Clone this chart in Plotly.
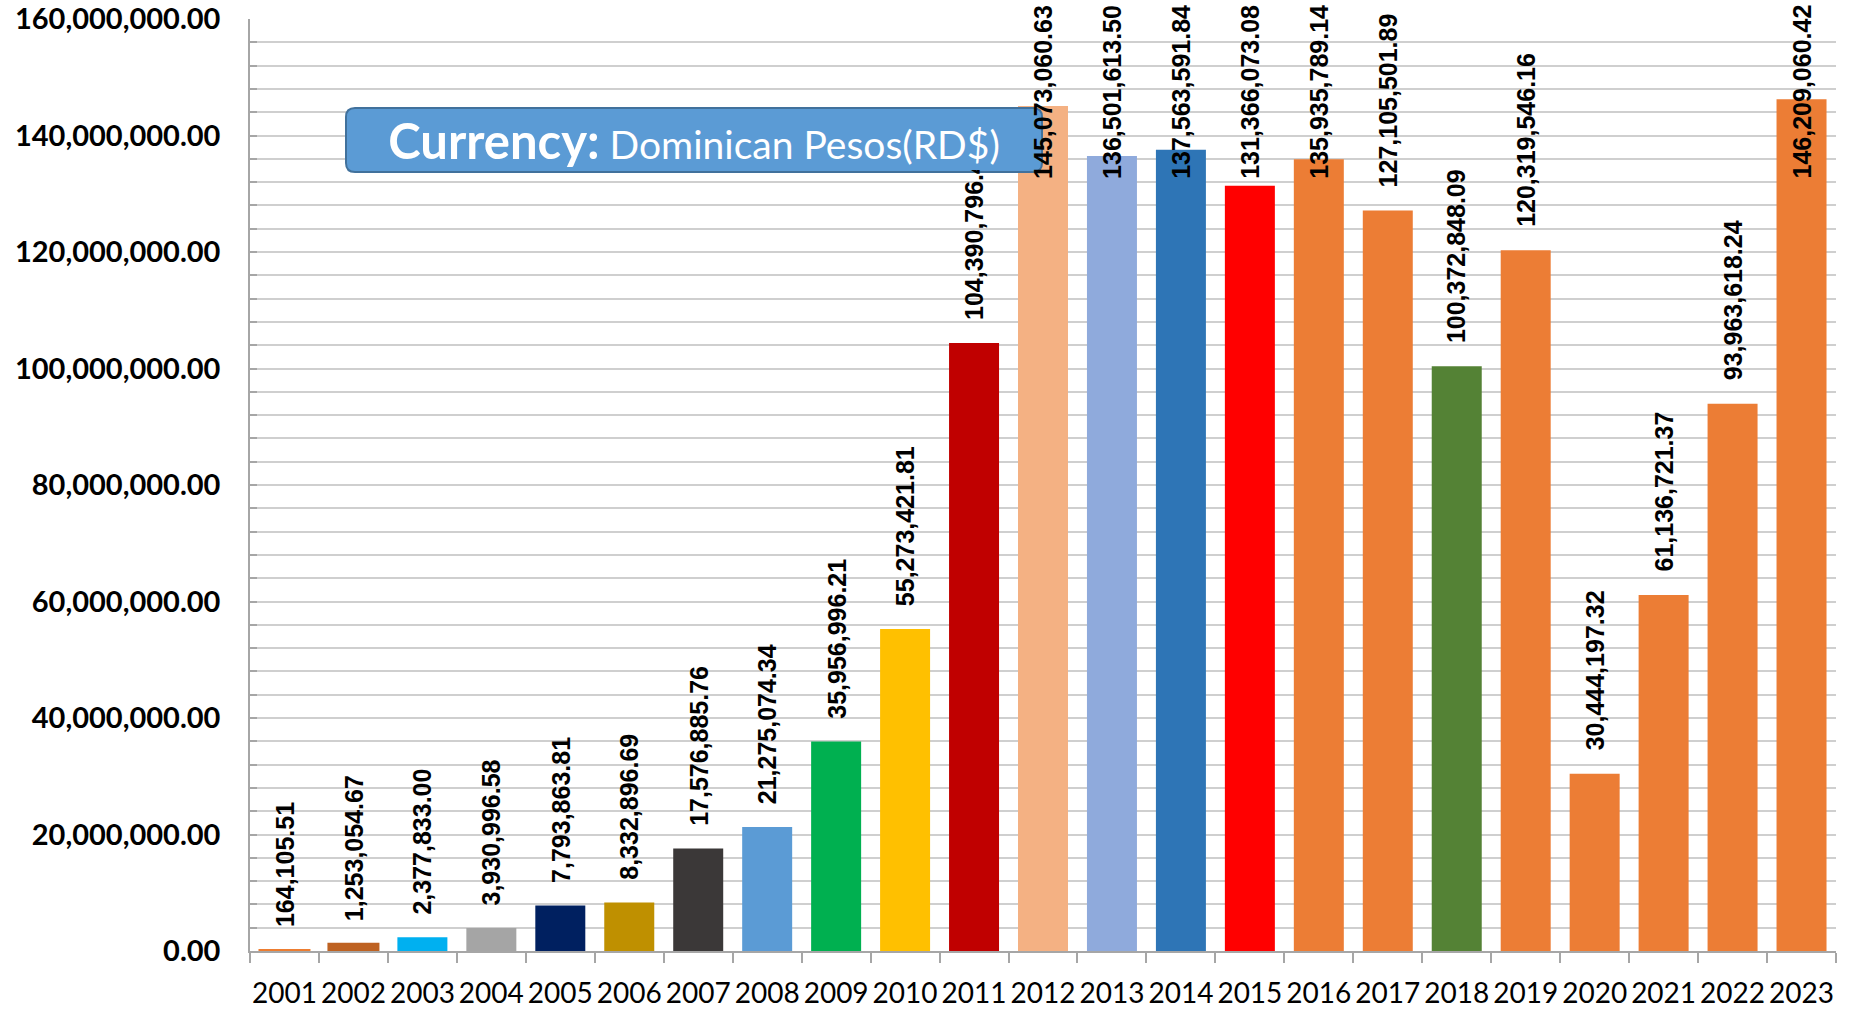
import plotly.graph_objects as go

# ---------------- data ----------------
years = ["2001", "2002", "2003", "2004", "2005", "2006", "2007", "2008",
         "2009", "2010", "2011", "2012", "2013", "2014", "2015", "2016",
         "2017", "2018", "2019", "2020", "2021", "2022", "2023"]

values = [164105.51, 1253054.67, 2377833.00, 3930996.58, 7793863.81,
          8332896.69, 17576885.76, 21275074.34, 35956996.21, 55273421.81,
          104390796.45, 145073060.63, 136501613.50, 137563591.84,
          131366073.08, 135935789.14, 127105501.89, 100372848.09,
          120319546.16, 30444197.32, 61136721.37, 93963618.24,
          146209060.42]

bar_colors = ["#ED7D31", "#BE6222", "#00B0F0", "#A5A5A5", "#002060",
              "#BF9000", "#3B3838", "#5B9BD5", "#00B050", "#FFC000",
              "#C00000", "#F4B183", "#8FAADC", "#2E75B6", "#FF0000",
              "#EC7D35", "#EC7D35", "#548235", "#EC7D35", "#EC7D35",
              "#EC7D35", "#EC7D35", "#EC7D35"]

y_tick_values = [0, 20e6, 40e6, 60e6, 80e6, 100e6, 120e6, 140e6, 160e6]

box_title = "Currency:"
box_subtitle = "Dominican Pesos(RD$)"

# ---------------- layout constants ----------------
W, H = 1857, 1010
PLOT_L, PLOT_R, PLOT_T, PLOT_B = 250, 1836, 19, 951   # on the page
ML, MT = PLOT_L, PLOT_T
MR, MB = W - PLOT_R, H - PLOT_B
PW, PH = PLOT_R - PLOT_L, PLOT_B - PLOT_T
Y_MAX = 160e6
LABEL_GAP = 3.6e6        # gap between bar top and its label
LABEL_CEIL = 132.2e6     # labels are pushed down so they stay on the page

GRID = "#CFCFCF"
AXIS = "#A6A6A6"

line_colors = [c for c in bar_colors]
line_widths = [2 if v < 2e6 else 0 for v in values]

fig = go.Figure()
fig.add_trace(go.Bar(
    x=years, y=values,
    marker=dict(color=bar_colors, line=dict(color=line_colors, width=line_widths)),
    hovertemplate="%{x}: %{y:,.2f}<extra></extra>",
))

annotations = []
for i, v in enumerate(values):
    annotations.append(dict(
        x=i, y=min(v + LABEL_GAP, LABEL_CEIL), xref="x", yref="y",
        text=f"{v:,.2f}", textangle=-90, showarrow=False,
        xanchor="center", yanchor="bottom",
        font=dict(family="Liberation Sans, Arial, sans-serif", size=25,
                  color="black", weight="bold"),
    ))

# currency box (rounded rectangle) in paper coords
bx0, bx1, by0, by1 = 346, 1042, 108, 172   # pixel positions on page
r = 9
def px_x(p):
    return (p - PLOT_L) / PW
def px_y(p):
    return (PLOT_B - p) / PH

x0, x1 = px_x(bx0), px_x(bx1)
y0, y1 = px_y(by1), px_y(by0)
rx, ry = r / PW, r / PH
path = (f"M {x0+rx},{y0} L {x1-rx},{y0} Q {x1},{y0} {x1},{y0+ry} "
        f"L {x1},{y1-ry} Q {x1},{y1} {x1-rx},{y1} L {x0+rx},{y1} "
        f"Q {x0},{y1} {x0},{y1-ry} L {x0},{y0+ry} Q {x0},{y0} {x0+rx},{y0} Z")

shapes = [dict(type="path", path=path, xref="paper", yref="paper",
               fillcolor="#5B9BD5", line=dict(color="#41719C", width=2),
               layer="above")]

annotations.append(dict(
    x=(x0 + x1) / 2, y=(y0 + y1) / 2, xref="paper", yref="paper",
    xanchor="center", yanchor="middle", showarrow=False,
    width=(bx1 - bx0) - 2 * r, height=(by1 - by0) - 4,
    bgcolor="#5B9BD5", borderpad=0, borderwidth=0,
    text=(f"<b><span style='font-size:49px'>{box_title}</span></b>"
          f" <span style='font-size:39px'>{box_subtitle}</span>"),
    font=dict(family="Lato, sans-serif", size=39, color="white"),
))

fig.update_layout(
    width=W, height=H,
    margin=dict(l=ML, r=MR, t=MT, b=MB, pad=0, autoexpand=False),
    paper_bgcolor="white", plot_bgcolor="white",
    showlegend=False, bargap=0.275,
    shapes=shapes, annotations=annotations,
    xaxis=dict(
        type="category", range=[-0.5, len(years) - 0.5], automargin=False,
        tickson="boundaries", ticks="outside", ticklen=10, tickcolor=AXIS,
        tickwidth=1.5, showline=True, linecolor=AXIS, linewidth=1.5,
        showgrid=False, ticklabelstandoff=17, tickangle=0,
        tickfont=dict(family="Lato, sans-serif", size=28, color="black"),
    ),
    yaxis=dict(
        range=[0, Y_MAX], tickvals=y_tick_values, tickformat=",.2f",
        automargin=False, ticklabeloverflow="allow",
        showgrid=True, gridcolor=GRID, gridwidth=1.5, zeroline=False,
        showline=True, linecolor=AXIS, linewidth=1.5,
        ticks="inside", ticklen=7, tickcolor=AXIS, tickwidth=1.5,
        ticklabelstandoff=22,
        minor=dict(dtick=4e6, showgrid=True, gridcolor=GRID, gridwidth=1.5,
                   ticks="inside", ticklen=7, tickcolor=AXIS),
        tickfont=dict(family="Lato, sans-serif", size=29, color="black",
                      weight="bold"),
    ),
)

fig.write_html("out.html",
               config={"displayModeBar": False},
               post_script="document.body.style.margin='0';"
                           "document.body.style.overflow='hidden';")
